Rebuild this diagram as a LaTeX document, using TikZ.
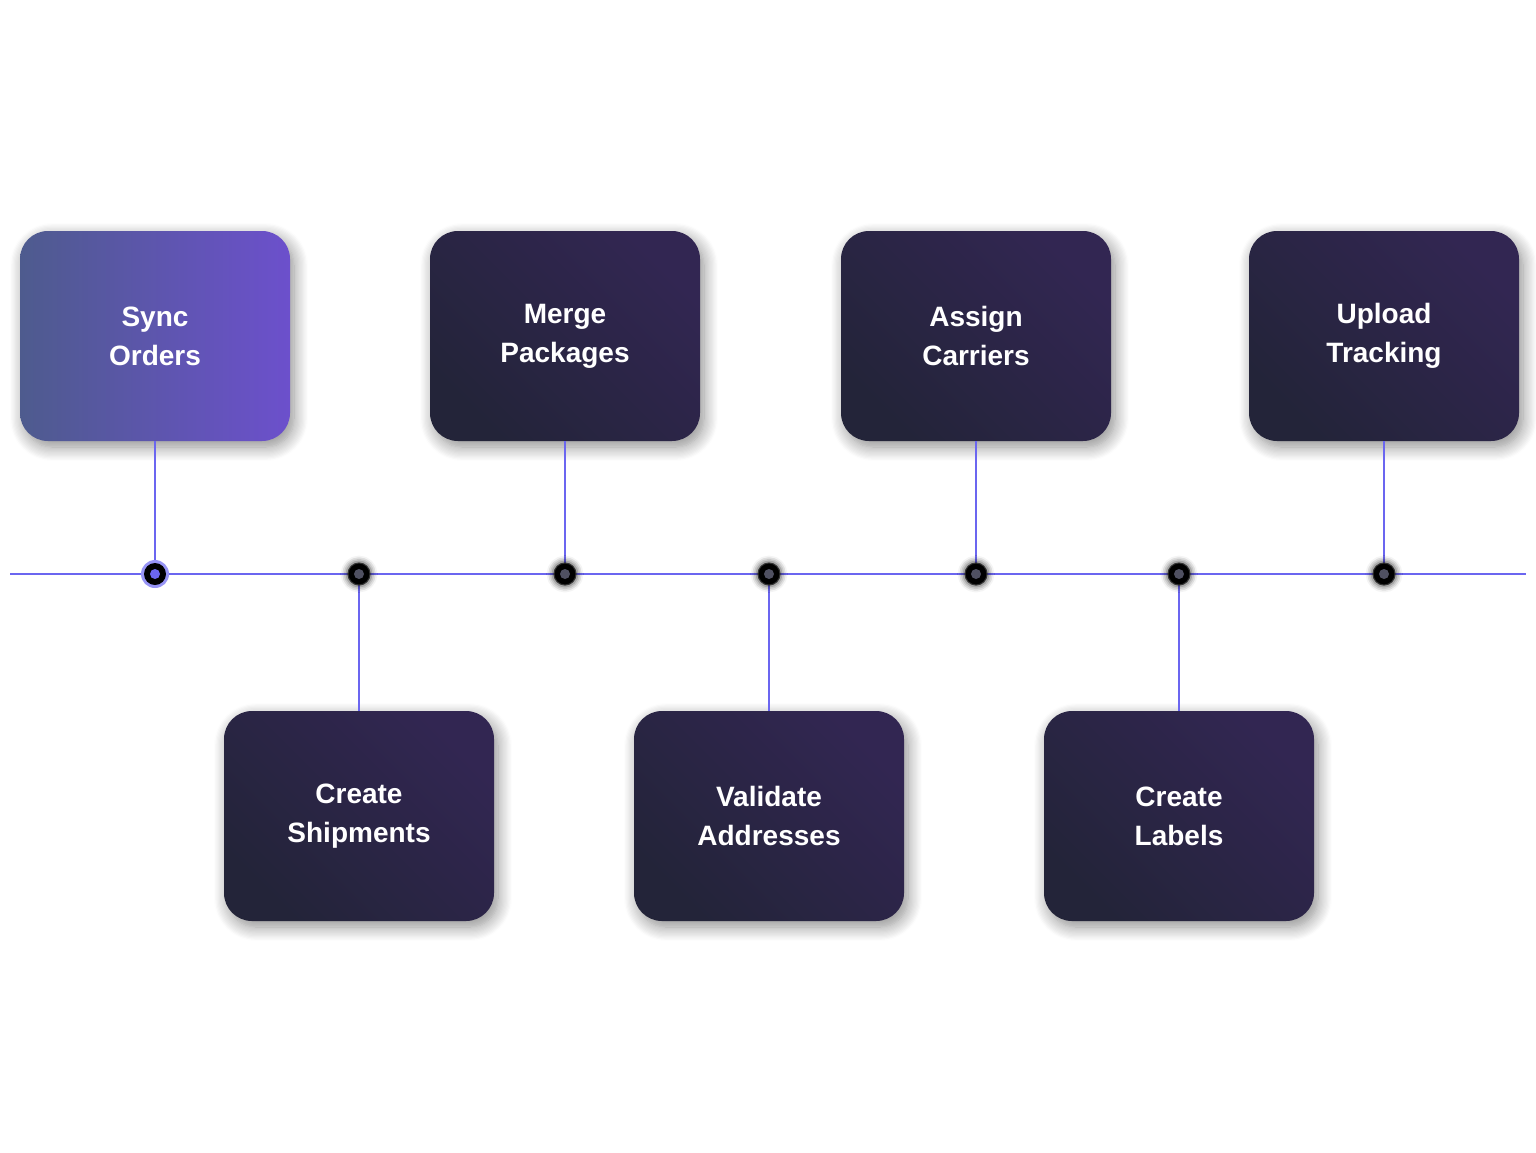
\documentclass[tikz,border=0pt]{standalone}
\usepackage{fontspec}
\setmainfont{Liberation Sans}
\usetikzlibrary{shadows.blur}
\definecolor{lineC}{HTML}{6B66F0}
\definecolor{dA}{HTML}{232439}
\definecolor{dB}{HTML}{322652}
\definecolor{pA}{HTML}{4E5B8E}
\definecolor{pB}{HTML}{6C50CC}
\definecolor{glow}{HTML}{6B5FB0}
\begin{document}
\begin{tikzpicture}[x=1pt,y=-1pt,
  box/.style={rounded corners=28pt,minimum width=270pt,minimum height=210pt,
    align=center,text=white,font=\bfseries\fontsize{28}{39}\selectfont,
    shading=axis,left color=dA,right color=dB,shading angle=135,
    blur shadow={shadow xshift=4pt,shadow yshift=-6pt,shadow blur radius=14pt,shadow opacity=45,shadow blur steps=12,shadow scale=1}},
  pbox/.style={box,left color=pA,right color=pB},
  dot/.style={circle,fill=black,minimum size=22pt,inner sep=0pt,draw=black!80,line width=1pt,
    blur shadow={shadow xshift=0pt,shadow yshift=0pt,shadow blur radius=5pt,shadow opacity=70,shadow scale=1.15}},
  conn/.style={draw=lineC,line width=2pt}]
\useasboundingbox (0,0) rectangle (1536,1152);
\coordinate (L) at (10,574); \coordinate (R) at (1526,574);
\draw[conn] (L) -- (R);
\node[pbox] (b1) at (155,336) {Sync\\Orders};
\node[box] (b2) at (359,816) {Create\\Shipments};
\node[box] (b3) at (565,336) {Merge\\Packages};
\node[box] (b4) at (769,816) {Validate\\Addresses};
\node[box] (b5) at (976,336) {Assign\\Carriers};
\node[box] (b6) at (1179,816) {Create\\Labels};
\node[box] (b7) at (1384,336) {Upload\\Tracking};
\foreach \i/\x in {1/155,2/359,3/565,4/769,5/976,6/1179,7/1384}{
  \coordinate (c\i) at (\x,574);
  \draw[conn] (b\i) -- (c\i);
}
\fill[lineC!70] (c1) circle (14pt);
\node[circle,fill=black,minimum size=22pt,inner sep=0pt] (d1) at (c1) {};
\fill[lineC] (d1) circle (5pt);
\foreach \i in {2,...,7}{
  \node[dot] (d\i) at (c\i) {};
  \fill[dA!80!white] (d\i) circle (5pt);
}
\end{tikzpicture}
\end{document}
